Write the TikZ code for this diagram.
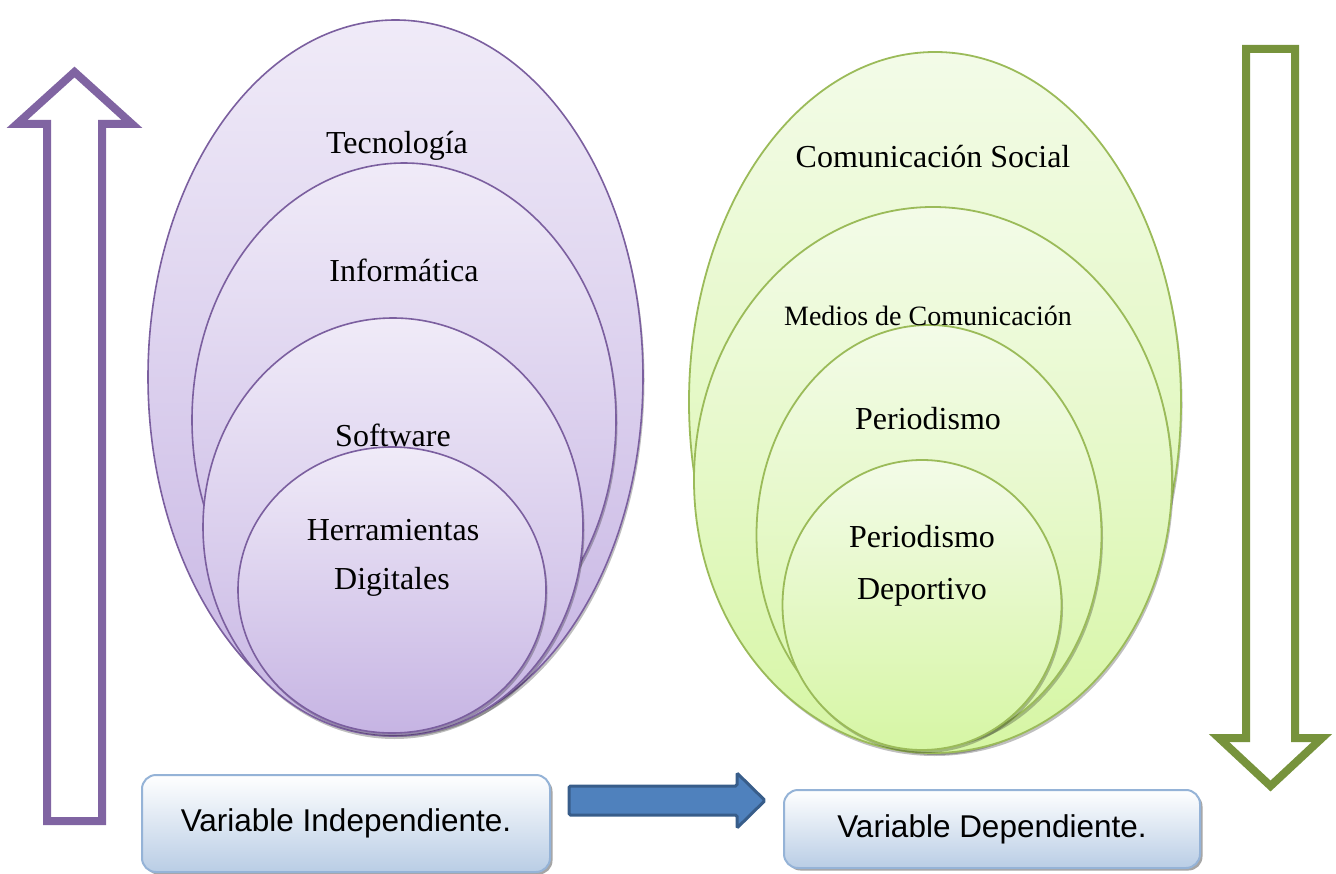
\documentclass[tikz,border=0pt]{standalone}
\usepackage{fontspec}
\setmainfont{Liberation Serif}
\newfontfamily\arialfont{Liberation Sans}
\usetikzlibrary{shapes.geometric,shadows}
\definecolor{lilaborde}{HTML}{7B5F9F}
\definecolor{lilaclaro}{HTML}{F0EBF8}
\definecolor{lilaoscuro}{HTML}{C6B4E3}
\definecolor{lilaflecha}{HTML}{8064A2}
\definecolor{verdeborde}{HTML}{9BBB59}
\definecolor{verdeclaro}{HTML}{F3FBE8}
\definecolor{verdeoscuro}{HTML}{D6F6A4}
\definecolor{verdeflecha}{HTML}{77933C}
\definecolor{azulborde}{HTML}{385D8A}
\definecolor{azulflecha}{HTML}{4F81BD}
\definecolor{cajaborde}{HTML}{95B3D7}
\definecolor{cajafondo}{HTML}{B9CDE5}
\begin{document}
\begin{tikzpicture}[x=1pt,y=-1pt,
		sombra/.style={drop shadow={shadow xshift=1.5pt,shadow yshift=-3pt,opacity=0.25,fill=black}},
		lilaoval/.style={ellipse,inner sep=0,draw=lilaborde,line width=1.6,top color=lilaclaro,bottom color=lilaoscuro,sombra},
		verdeoval/.style={ellipse,inner sep=0,draw=verdeborde,line width=1.8,top color=verdeclaro,bottom color=verdeoscuro,sombra},
		rotulo/.style={font=\fontsize{32}{38}\selectfont,inner sep=0},
		caja/.style={rectangle,rounded corners=14pt,draw=cajaborde,line width=2,top color=white,bottom color=cajafondo,
			font=\arialfont\fontsize{31.5}{38}\selectfont,drop shadow={shadow xshift=2.5pt,shadow yshift=-2.5pt,opacity=0.35,fill=black}}]
		\useasboundingbox (0,0) rectangle (1336,874);
		% flecha hacia arriba
		\draw[line width=8,draw=lilaflecha,fill=white,miter limit=10]
			(47,821) -- (47,124) -- (17,124) -- (74.5,72) -- (132,124) -- (102,124) -- (102,821) -- cycle;
		% flecha hacia abajo
		\draw[line width=8,draw=verdeflecha,fill=white,miter limit=10]
			(1246,49) -- (1295,49) -- (1295,738) -- (1322,738) -- (1270.5,786) -- (1219,738) -- (1246,738) -- cycle;
		% variable independiente
		\node[lilaoval,minimum width=495,minimum height=714] (T) at (395.5,377) {};
		\node[lilaoval,minimum width=424,minimum height=514] (I) at (404,420) {};
		\node[lilaoval,minimum width=380,minimum height=418] (S) at (393,527) {};
		\node[lilaoval,minimum width=308,minimum height=286] (H) at (392,590) {};
		\node[rotulo] (Tt) at (397,146) {Tecnología};
		\node[rotulo] (It) at (404,270) {Informática};
		\node[rotulo] (St) at (393,435) {Software};
		\node[rotulo] (Ht1) at (393,530) {Herramientas};
		\node[rotulo] (Ht2) at (392,582) {Digitales};
		% variable dependiente
		\node[verdeoval,minimum width=492,minimum height=700] (C) at (935,402) {};
		\node[verdeoval,minimum width=478,minimum height=546] (M) at (933,480) {};
		\node[verdeoval,minimum width=345,minimum height=420] (P) at (929,535) {};
		\node[verdeoval,minimum width=279,minimum height=290] (D) at (922,605) {};
		\node[rotulo] (Ct) at (933,157) {Comunicación Social};
		\node[rotulo,font=\fontsize{28}{34}\selectfont] (Mt) at (928,316) {Medios de Comunicación};
		\node[rotulo] (Pt) at (928,419) {Periodismo};
		\node[rotulo] (Dt1) at (922,537) {Periodismo};
		\node[rotulo] (Dt2) at (922,592) {Deportivo};
		% cajas
		\node[caja,minimum width=408,minimum height=97] (VI) at (346,823.5) {\raisebox{4pt}{Variable Independiente.}};
		\node[caja,minimum width=416,minimum height=78] (VD) at (992,829) {Variable Dependiente.};
		\draw[line width=3,draw=azulborde,fill=azulflecha,rounded corners=1.5]
			(569,786) -- (737,786) -- (737,773) -- (765,800.5) -- (737,828) -- (737,815) -- (569,815) -- cycle;
	\end{tikzpicture}
\end{document}
